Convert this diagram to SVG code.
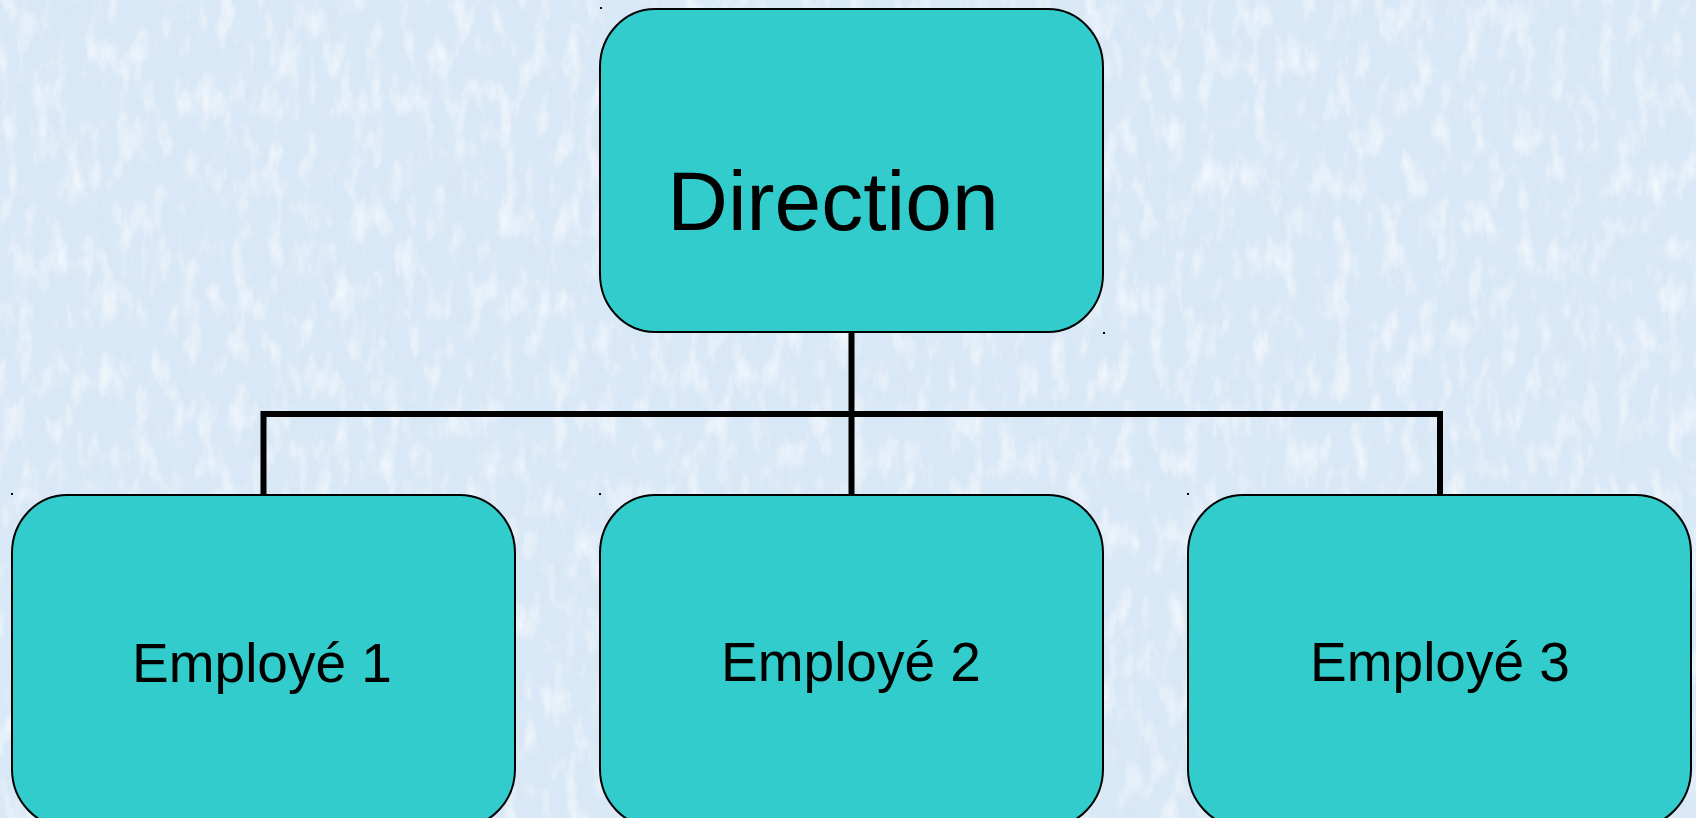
<svg xmlns="http://www.w3.org/2000/svg" width="1696" height="818" viewBox="0 0 1696 818">
  <defs>
    <filter id="grain" x="0" y="0" width="100%" height="100%">
      <feTurbulence type="fractalNoise" baseFrequency="0.06 0.025" numOctaves="4" seed="7" result="n"/>
      <feColorMatrix in="n" type="matrix" values="0 0 0 0 1  0 0 0 0 1  0 0 0 0 1  0 0 0 1.5 -0.72" />
    </filter>
    <filter id="grain2" x="0" y="0" width="100%" height="100%">
      <feTurbulence type="fractalNoise" baseFrequency="0.08 0.03" numOctaves="3" seed="3" result="n"/>
      <feColorMatrix in="n" type="matrix" values="0 0 0 0 0.70  0 0 0 0 0.79  0 0 0 0 0.90  0 0 0 1.3 -0.68" />
    </filter>
  </defs>
  <style>
    .box { fill: #33cccc; stroke: #000; stroke-width: 2; }
    .lbl { font-family: "Liberation Sans", Arial, sans-serif; fill: #000; text-anchor: middle; }
    .big { font-size: 84px; }
    .small { font-size: 55px; }
    .wire { fill: none; stroke: #000; stroke-width: 6; stroke-linejoin: miter; stroke-linecap: butt; }
    .dot { fill: #000; }
  </style>

  <!-- textured pale blue backdrop -->
  <rect x="0" y="0" width="1696" height="818" fill="#d9e8f6"/>
  <rect x="0" y="0" width="1696" height="818" filter="url(#grain2)"/>
  <rect x="0" y="0" width="1696" height="818" filter="url(#grain)"/>

  <!-- connectors -->
  <g id="connectors">
    <path class="wire" d="M851.5 332 V414"/>
    <path class="wire" d="M263.5 495 V414 H1440 V495"/>
    <path class="wire" d="M851.5 414 V495"/>
  </g>

  <g id="node-direction">
    <rect class="box" x="600" y="9" width="503" height="323" rx="55" ry="58"/>
    <text class="lbl big" x="833" y="230">Direction</text>
  </g>

  <g id="node-employe1">
    <rect class="box" x="12" y="495" width="503" height="332" rx="55" ry="58"/>
    <text class="lbl small" x="262" y="682">Employé 1</text>
  </g>

  <g id="node-employe2">
    <rect class="box" x="600" y="495" width="503" height="332" rx="55" ry="58"/>
    <text class="lbl small" x="851" y="681">Employé 2</text>
  </g>

  <g id="node-employe3">
    <rect class="box" x="1188" y="495" width="503" height="332" rx="55" ry="58"/>
    <text class="lbl small" x="1440" y="681">Employé 3</text>
  </g>

  <!-- small corner marks -->
  <rect class="dot" x="600" y="7" width="2" height="2"/>
  <rect class="dot" x="1103" y="332" width="2" height="2"/>
  <rect class="dot" x="11" y="493" width="2" height="2"/>
  <rect class="dot" x="599" y="493" width="2" height="2"/>
  <rect class="dot" x="1187" y="493" width="2" height="2"/>
</svg>
